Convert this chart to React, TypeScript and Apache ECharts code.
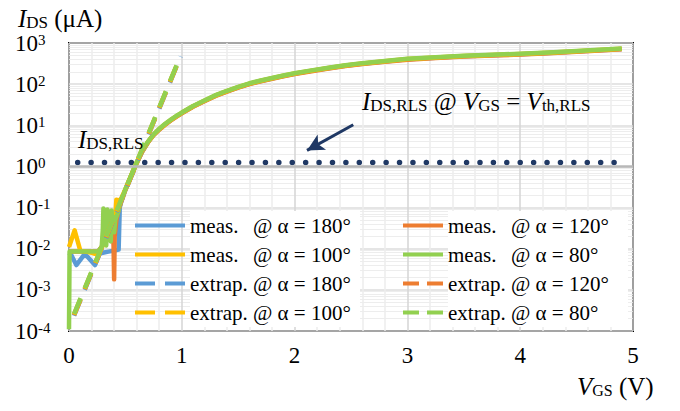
import React, { useEffect, useRef } from 'react';
import * as echarts from 'echarts';

const FONT = '"Liberation Serif", "Times New Roman", serif';

// Shared VGS grid (V) for the on-state part of the measured curves
const vgsOn = [0.46, 0.5, 0.55, 0.6, 0.65, 0.7, 0.75, 0.8, 0.85, 0.9, 0.95, 1.0, 1.05, 1.1, 1.2, 1.3, 1.4, 1.5, 1.6, 1.7, 1.8, 1.9, 2.0, 2.15, 2.3, 2.45, 2.6, 2.8, 3.0, 3.25, 3.5, 3.75, 4.0, 4.25, 4.5, 4.7, 4.9];
// IDS (µA) on that grid
const idsOn180 = [0.13, 0.27, 0.58, 1.22, 2.33, 3.88, 5.82, 7.95, 10.4, 13.1, 16.3, 19.8, 23.8, 28.6, 38.8, 52.4, 66.9, 83.4, 102, 119, 137, 157, 178, 210, 243, 279, 314, 356, 400, 438, 475, 503, 534, 571, 620, 664, 716];
const idsOn120 = [0.13, 0.27, 0.57, 1.2, 2.3, 3.82, 5.73, 7.83, 10.2, 12.9, 16.0, 19.5, 23.4, 28.2, 38.2, 51.6, 65.9, 82.1, 100, 117, 135, 155, 176, 206, 240, 275, 309, 350, 393, 432, 468, 496, 525, 562, 611, 654, 706];
const idsOn100 = [0.16, 0.28, 0.59, 1.24, 2.36, 3.94, 5.91, 8.08, 10.5, 13.3, 16.5, 20.1, 24.1, 29.1, 39.4, 53.2, 68, 84.7, 103, 121, 139, 160, 181, 213, 247, 284, 319, 361, 406, 445, 483, 511, 542, 580, 630, 675, 728];
const idsOn80 = [0.14, 0.28, 0.6, 1.26, 2.4, 4.0, 6.0, 8.2, 10.7, 13.5, 16.8, 20.4, 24.5, 29.5, 40, 54, 69, 86, 105, 123, 141, 162, 184, 216, 251, 288, 324, 367, 412, 452, 490, 519, 550, 589, 640, 685, 740];

// Low-VGS (noise floor) parts [VGS, IDS]
const low180: [number, number][] = [[0, 8e-3], [0.02, 7e-3], [0.065, 4e-3], [0.14, 7.5e-3], [0.23, 4e-3], [0.27, 7.5e-3], [0.3, 8e-3], [0.35, 8.5e-3], [0.4, 9e-3], [0.44, 9.5e-3], [0.45, 0.1]];
const low120: [number, number][] = [[0, 8.5e-3], [0.1, 8.5e-3], [0.2, 8.5e-3], [0.26, 8.7e-3], [0.3, 0.012], [0.34, 0.05], [0.38, 0.06], [0.395, 0.012], [0.4, 1.8e-3], [0.405, 0.02], [0.42, 0.05], [0.44, 0.09]];
const low100: [number, number][] = [[0, 0.011], [0.05, 0.028], [0.1, 9e-3], [0.15, 8.5e-3], [0.2, 8e-3], [0.23, 7.5e-3], [0.26, 8e-3], [0.3, 0.012], [0.33, 0.025], [0.36, 0.04], [0.39, 0.06], [0.41, 0.06], [0.42, 0.155], [0.44, 0.15]];
const low80: [number, number][] = [[0, 1.1e-4], [0.005, 8.5e-3], [0.1, 8.5e-3], [0.2, 8.5e-3], [0.26, 8.7e-3], [0.29, 0.011], [0.3, 0.03], [0.305, 0.095], [0.315, 0.02], [0.33, 0.012], [0.34, 0.09], [0.35, 0.02], [0.36, 0.075], [0.37, 0.015], [0.378, 0.085], [0.385, 0.03], [0.39, 0.06], [0.4, 0.025], [0.41, 0.05], [0.43, 0.07]];

// Extrapolated subthreshold lines [VGS, IDS]
const ext180: [number, number][] = [[0.045, 2.35e-4], [0.99, 470]];
const ext120: [number, number][] = [[0.045, 2.45e-4], [0.99, 480]];
const ext100: [number, number][] = [[0.045, 2.5e-4], [0.99, 490]];
const ext80: [number, number][] = [[0.045, 2.6e-4], [0.99, 500]];

// IDS,RLS level and annotation arrow
const rlsLine: [number, number][] = [[0.077, 1.25], [4.86, 1.25]];
const arrowFrom: [number, number] = [2.52, 10.3];
const arrowTo: [number, number] = [2.11, 2.45];

const xTicks = { min: 0, max: 5, interval: 1 };
const yTicks = { min: 1e-4, max: 1e3 };

const COLORS = { a180: '#5B9BD5', a120: '#ED7D31', a100: '#FFC000', a80: '#92D050', navy: '#1F3864' };

const names = {
  m180: 'meas. @ α = 180°', m100: 'meas. @ α = 100°', e180: 'extrap. @ α = 180°', e100: 'extrap. @ α = 100°',
  m120: 'meas. @ α = 120°', m80: 'meas. @ α = 80°', e120: 'extrap. @ α = 120°', e80: 'extrap. @ α = 80°',
};

const build = (low: [number, number][], on: number[]) => low.concat(vgsOn.map((v, i) => [v, on[i]] as [number, number]));

const richSub = (fs: number, sub: number, color: string) => ({
  i: { fontFamily: FONT, fontSize: fs, fontStyle: 'italic', lineHeight: 24, verticalAlign: 'middle', color },
  n: { fontFamily: FONT, fontSize: fs, lineHeight: 24, verticalAlign: 'middle', color },
  s: { fontFamily: FONT, fontSize: sub, lineHeight: 16.6, verticalAlign: 'bottom', color },
});

const DASH50 = 'path://M0,0h20v4h-20zM30,0h20v4h-20z';
const DASH40 = 'path://M0,0h16v4h-16zM24,0h16v4h-16z';

export default function App() {
  const ref = useRef<HTMLDivElement>(null);
  useEffect(() => {
    if (!ref.current) return;
    const chart = echarts.init(ref.current, undefined, { renderer: 'svg' });
    const measLine = (name: string, color: string, data: [number, number][]) => ({
      name, type: 'line', data, symbol: 'none', showSymbol: false, silent: true,
      lineStyle: { color, width: 4.5, join: 'round' }, itemStyle: { color },
    });
    const extLine = (name: string, color: string, data: [number, number][]) => ({
      name, type: 'line', data, symbol: 'none', showSymbol: false, silent: true,
      lineStyle: { color, width: 4.5, type: [17, 11], cap: 'butt' }, itemStyle: { color },
    });
    const legendText = (w: number) => ({
      fontFamily: FONT, fontSize: 21, color: '#000', backgroundColor: '#fff', width: w, lineHeight: 29, padding: 0,
      rich: {
        a: { fontFamily: FONT, fontSize: 21, width: 63, lineHeight: 29 },
        b: { fontFamily: FONT, fontSize: 21, lineHeight: 29 },
      },
    });
    const legendFmt = (name: string) => {
      const [a, b] = name.split(' @ ');
      return `{a|${a}}{b|@ ${b}}`;
    };
    const option: any = {
      animation: false,
      backgroundColor: '#fff',
      grid: { left: 69, right: 47, top: 43, bottom: 80, show: true, borderColor: '#000', borderWidth: 2, backgroundColor: 'transparent' },
      xAxis: {
        type: 'value', min: xTicks.min, max: xTicks.max, interval: xTicks.interval,
        axisLine: { show: false }, axisTick: { show: false },
        axisLabel: { fontFamily: FONT, fontSize: 23, color: '#000', margin: 13, showMinLabel: true, showMaxLabel: true },
        splitLine: { show: true, lineStyle: { color: '#d4d4d4', width: 1.5 } },
        minorTick: { show: false, splitNumber: 5 },
        minorSplitLine: { show: true, lineStyle: { color: '#ececec', width: 1.5 } },
      },
      yAxis: {
        type: 'log', logBase: 10, min: yTicks.min, max: yTicks.max,
        axisLine: { show: false }, axisTick: { show: false },
        axisLabel: {
          align: 'left', margin: 54, showMinLabel: true, showMaxLabel: true,
          formatter: (v: number) => `{b|10}{s|${Math.round(Math.log10(v))}}`,
          rich: {
            b: { fontFamily: FONT, fontSize: 23, lineHeight: 22, verticalAlign: 'middle', color: '#000' },
            s: { fontFamily: FONT, fontSize: 15, lineHeight: 11, verticalAlign: 'top', color: '#000' },
          },
        },
        splitLine: { show: true, lineStyle: { color: '#dcdcdc', width: 1.5 } },
        minorTick: { show: false, splitNumber: 9 },
        minorSplitLine: { show: true, lineStyle: { color: '#ededed', width: 1.2 } },
      },
      legend: [
        {
          data: [
            { name: names.m180, icon: 'rect' }, { name: names.m100, icon: 'rect' },
            { name: names.e180, icon: DASH50 }, { name: names.e100, icon: DASH50 },
          ],
          orient: 'vertical', left: 135, top: 211,
          itemWidth: 50, itemHeight: 4, itemGap: 0, padding: 0, selectedMode: false,
          formatter: legendFmt, textStyle: legendText(170),
        },
        {
          data: [
            { name: names.m120, icon: 'rect' }, { name: names.m80, icon: 'rect' },
            { name: names.e120, icon: DASH40 }, { name: names.e80, icon: DASH40 },
          ],
          orient: 'vertical', left: 403, top: 211,
          itemWidth: 40, itemHeight: 4, itemGap: 0, padding: 0, selectedMode: false,
          formatter: legendFmt, textStyle: legendText(180),
        },
      ],
      series: [
        {
          name: 'IDS,RLS', type: 'line', data: rlsLine, symbol: 'none', silent: true,
          lineStyle: { color: COLORS.navy, width: 5.5, type: [0.01, 13.4], cap: 'round' },
          markLine: {
            silent: true, animation: false, symbol: ['none', 'none'], label: { show: false },
            data: [
              { yAxis: 1, lineStyle: { color: '#b8b8b8', width: 2.5, type: 'solid' } },
              [
                { coord: arrowFrom, symbol: 'none', lineStyle: { color: COLORS.navy, width: 3, type: 'solid' } },
                { coord: arrowTo, symbol: 'arrow', symbolSize: [13, 17] },
              ],
            ],
          },
        },
        measLine(names.m180, COLORS.a180, build(low180, idsOn180)),
        measLine(names.m120, COLORS.a120, build(low120, idsOn120)),
        measLine(names.m100, COLORS.a100, build(low100, idsOn100)),
        measLine(names.m80, COLORS.a80, build(low80, idsOn80)),
        extLine(names.e180, COLORS.a180, ext180),
        extLine(names.e120, COLORS.a120, ext120),
        extLine(names.e100, COLORS.a100, ext100),
        extLine(names.e80, COLORS.a80, ext80),
      ],
      graphic: [
        {
          type: 'text', x: 18, y: 6.6, z: 10,
          style: { text: '{i|I}{s|DS}{n| (μA)}', rich: richSub(25, 17, '#000'), verticalAlign: 'top', align: 'left' },
        },
        {
          type: 'text', x: 577, y: 374, z: 10,
          style: { text: '{i|V}{s|GS}{n| (V)}', rich: richSub(25, 16, '#000'), verticalAlign: 'top', align: 'left' },
        },
        {
          type: 'text', x: 78, y: 127.6, z: 10,
          style: { text: '{i|I}{s|DS,RLS}', rich: richSub(25, 17, '#000'), verticalAlign: 'top', align: 'left' },
        },
        {
          type: 'text', x: 362, y: 89.6, z: 10,
          style: { text: '{i|I}{s|DS,RLS}{n| @ }{i|V}{s|GS}{n| = }{i|V}{s|th,RLS}', rich: richSub(25, 17, COLORS.navy), verticalAlign: 'top', align: 'left' },
        },
      ],
    };
    chart.setOption(option);
    return () => chart.dispose();
  }, []);
  return <div ref={ref} style={{ position: 'absolute', left: 0, top: 0, width: 680, height: 411 }} />;
}
